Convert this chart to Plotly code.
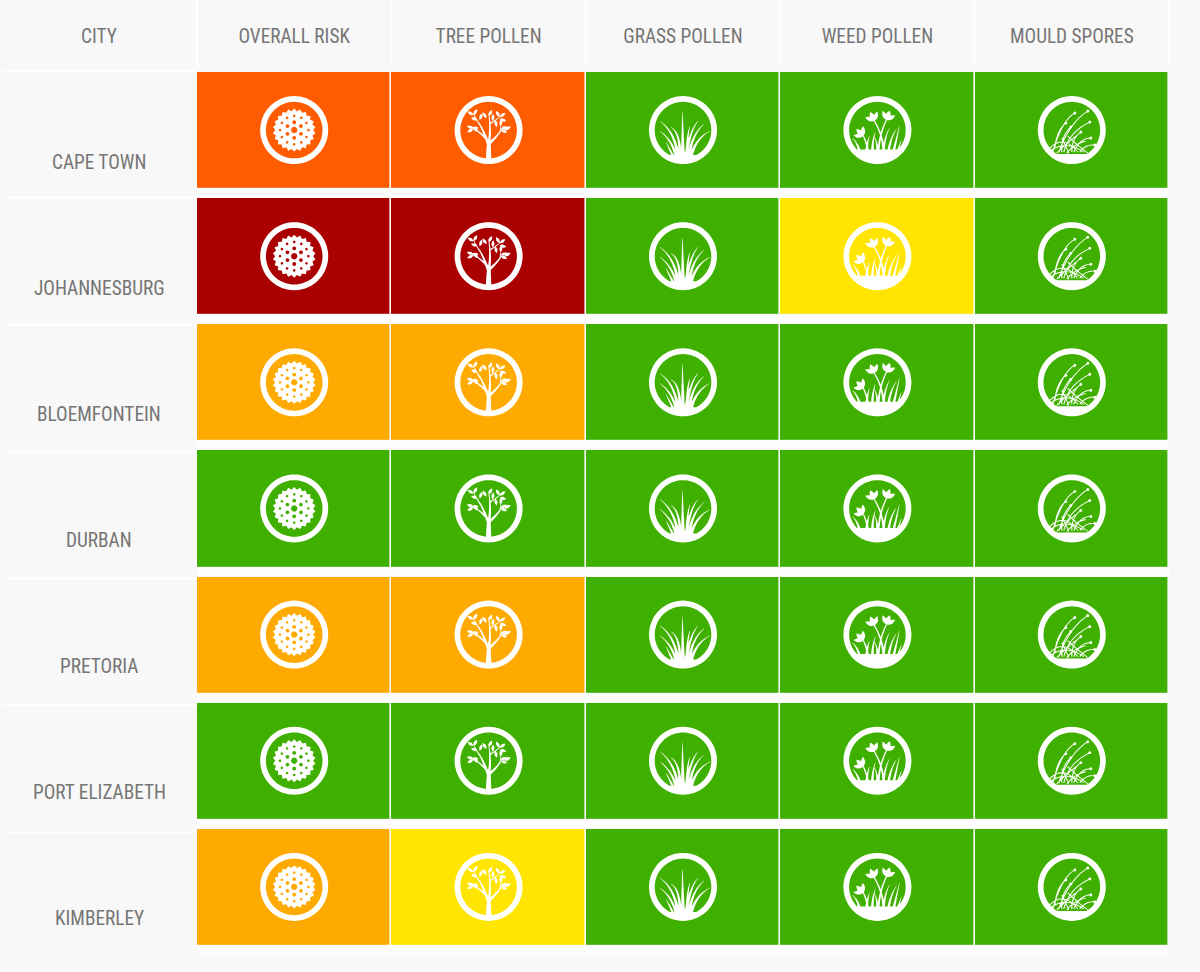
"""Pollen risk table for South African cities, drawn as a plotly heatmap with white icons."""
import math
import plotly.graph_objects as go

CITIES = ["CAPE TOWN", "JOHANNESBURG", "BLOEMFONTEIN", "DURBAN", "PRETORIA", "PORT ELIZABETH", "KIMBERLEY"]
COLUMNS = ["OVERALL RISK", "TREE POLLEN", "GRASS POLLEN", "WEED POLLEN", "MOULD SPORES"]
CORNER = "CITY"

# risk level per city: 0 low .. 4 very high
OVERALL = [3, 4, 2, 0, 2, 0, 2]
TREE = [3, 4, 2, 0, 2, 0, 1]
GRASS = [0, 0, 0, 0, 0, 0, 0]
WEED = [0, 1, 0, 0, 0, 0, 0]
MOULD = [0, 0, 0, 0, 0, 0, 0]

LEVEL_COLORS = ["#40B000", "#FFE500", "#FFAA00", "#FF5C00", "#AA0000"]
BG = "#F8F8F8"
TEXT = "#757575"
FONT = "Roboto Condensed, Liberation Sans Narrow, Roboto, sans-serif"
FONT_SIZE = 19.3

W, H = 1200, 972
M_L, M_R, M_T, M_B = 197, 31.4, 67, 17


# ---- icon geometry, pixels from icon centre, y pointing down ------------------
def poly(pts, hole=False):
    area = sum(pts[i][0] * pts[(i + 1) % len(pts)][1] - pts[(i + 1) % len(pts)][0] * pts[i][1]
               for i in range(len(pts)))
    if (area < 0) != hole:
        pts = pts[::-1]
    # shape paths in pixel mode measure y upwards
    return "M" + "L".join(f"{x:.2f},{-y:.2f}" for x, y in pts) + "Z"


def circle(cx, cy, r, n=12, hole=False):
    return poly([(cx + r * math.cos(2 * math.pi * k / n), cy + r * math.sin(2 * math.pi * k / n))
                 for k in range(n)], hole)


def ribbon(p0, c, p1, w0, w1=0.3, bulge=False, n=9):
    left, right = [], []
    for k in range(n + 1):
        t = k / n
        x = (1 - t) ** 2 * p0[0] + 2 * t * (1 - t) * c[0] + t * t * p1[0]
        y = (1 - t) ** 2 * p0[1] + 2 * t * (1 - t) * c[1] + t * t * p1[1]
        dx = 2 * (1 - t) * (c[0] - p0[0]) + 2 * t * (p1[0] - c[0])
        dy = 2 * (1 - t) * (c[1] - p0[1]) + 2 * t * (p1[1] - c[1])
        d = math.hypot(dx, dy) or 1
        w = w0 * math.sin(math.pi * t) if bulge else w0 + (w1 - w0) * t
        left.append((x - dy / d * w / 2, y + dx / d * w / 2))
        right.append((x + dy / d * w / 2, y - dx / d * w / 2))
    return poly(left + right[::-1])


def leaf(x, y, deg, length=7, w=3.0):
    a = math.radians(deg)
    x1, y1 = x + length * math.cos(a), y - length * math.sin(a)
    return ribbon((x, y), ((x + x1) / 2, (y + y1) / 2), (x1, y1), w, bulge=True)


def ground(y0, r=29.5):
    a = math.asin(y0 / r)
    steps = 20
    return poly([(r * math.cos(a + (math.pi - 2 * a) * k / steps), r * math.sin(a + (math.pi - 2 * a) * k / steps))
                 for k in range(steps + 1)])


RING = circle(0, 0, 34, 72) + circle(0, 0, 28.3, 72, hole=True)


def pollen_icon():
    star = []
    teeth = 22
    for k in range(teeth * 2):
        r = 21.5 if k % 2 == 0 else 19
        a = math.pi * k / teeth - math.pi / 2
        star.append((r * math.cos(a), r * math.sin(a)))
    path = poly(star) + circle(0, 0, 3.2, hole=True)
    for k in range(6):
        a = math.pi * k / 3 - math.pi / 2
        path += circle(7.8 * math.cos(a), 7.8 * math.sin(a), 1.9, hole=True)
    for k in range(12):
        a = math.pi * k / 6 - math.pi / 2
        path += circle(14.2 * math.cos(a), 14.2 * math.sin(a), 1.3, hole=True)
    return path


def tree_icon():
    parts = [
        ribbon((0, 30), (0, 18), (0.5, 9), 5.6, 3.2),
        ribbon((0, 15), (-4, 3), (-9, -6), 3.0, 1.2),
        ribbon((-8, -4), (-12, -10), (-15, -16), 1.5, 0.6),
        ribbon((0.5, 12), (2.5, -2), (0, -17), 2.8, 0.7),
        ribbon((1, -6), (6, -9), (12, -14), 1.5, 0.6),
        ribbon((1, 13), (7, 8), (12, 1), 2.8, 1.2),
        ribbon((11, 3), (12, -1), (12.5, -6), 1.2, 0.6),
        ribbon((-3, 8), (-10, 1), (-16, -2), 2.0, 0.7),
    ]
    leaves = [
        (-15, -15, 150), (-15, -15, 60), (-11, -10, 160), (-9, -10, 70), (-2, -12, 125), (0, -14, 60),
        (4, -9, 85), (11, -13, 35), (11, -13, 120), (11, -11, -15),
        (-15, -2, 165), (-15, -1, 205), (-10, 2, 140), (-10, -2, 180),
        (12, -1, 20), (12, 0, -20), (12, -4, 85), (16, 0, 30), (8, -3, 100),
    ]
    parts += [leaf(*v) for v in leaves]
    return "".join(parts)


def grass_icon():
    blades = [
        ((0, 26), (-0.5, 4), (-0.5, -18), 4.0),
        ((-5, 26), (-8, 2), (-23, -9), 3.4),
        ((-7, 26), (-11, 10), (-23, 1), 3.0),
        ((-3, 26), (-3, 2), (-12, -3), 3.4),
        ((4, 26), (4, 4), (7, -4), 3.2),
        ((3, 26), (7, 0), (15, -9), 3.4),
        ((6, 26), (9, 4), (21, -6), 3.4),
        ((8, 26), (13, 8), (27, 1), 3.4),
        ((-10, 26), (-14, 18), (-17, 12), 2.4),
    ]
    return ground(25) + "".join(ribbon(*b) for b in blades)


def tulip(x, y, deg):
    return leaf(x, y, deg, 10, 4.8) + leaf(x, y, deg + 42, 10, 4.0) + leaf(x, y, deg - 42, 10, 4.0)


def weed_icon():
    blades = [
        ((-18, 22), (-19, 14), (-25, 8), 3.0),
        ((-11, 22), (-10, 12), (-8, 6), 3.0),
        ((-5, 22), (-5, 10), (-2, 2), 3.0),
        ((0, 22), (0, 12), (-3, 7), 2.6),
        ((6, 22), (7, 8), (12, -2), 2.8),
        ((11, 22), (13, 8), (19, -1), 2.8),
        ((16, 22), (19, 10), (22, -4), 2.8),
        ((20, 22), (22, 16), (24, 10), 2.2),
    ]
    stems = [
        ((6, 22), (6, 6), (-3, -9), 2.1, 1.2),
        ((1, 22), (2, 4), (9, -10), 2.1, 1.2),
        ((-9, 22), (-11, 12), (-14, 6), 1.9, 1.2),
    ]
    path = ground(19.5) + "".join(ribbon(*b) for b in blades) + "".join(ribbon(*s) for s in stems)
    return path + tulip(-3, -9, 115) + tulip(9, -10, 70) + tulip(-14, 6, 135)


def mould_icon():
    stems = [
        ((-19, 22), (-10, -10), (3, -17)),
        ((-13, 22), (-2, -8), (16, -19)),
        ((-8, 22), (-3, 2), (18, -8)),
        ((0, 22), (0, 8), (9, 2)),
        ((-17, 18), (-15, 0), (-6, -7)),
        ((-10, 22), (-11, 6), (-1, -3)),
        ((2, 22), (8, 8), (19, 8)),
        ((8, 22), (14, 14), (23, 15)),
        ((-20, 20), (-6, 10), (12, 22)),
        ((-22, 18), (-8, 4), (6, 22)),
        ((-15, 23), (-6, 14), (4, 6)),
        ((-5, 23), (2, 14), (14, 11)),
        ((-4, 6), (4, 14), (16, 23)),
        ((-10, 8), (-6, 16), (-3, 23)),
    ]
    path = ground(24)
    for i, (p0, c, p1) in enumerate(stems):
        path += ribbon(p0, c, p1, 1.1, 0.9)
        if i < 8:
            path += circle(p1[0], p1[1], 1.5, 8)
    return path


ICONS = [pollen_icon(), tree_icon(), grass_icon(), weed_icon(), mould_icon()]

# ---- table --------------------------------------------------------------------
levels = [list(row) for row in zip(OVERALL, TREE, GRASS, WEED, MOULD)]
n = len(LEVEL_COLORS)
scale = []
for i, c in enumerate(LEVEL_COLORS):
    scale += [[i / n, c], [(i + 1) / n, c]]

fig = go.Figure(go.Heatmap(
    x=COLUMNS, y=CITIES, z=levels, zmin=-0.5, zmax=n - 0.5, colorscale=scale,
    showscale=False, xgap=1.6, ygap=10.2, hovertemplate="%{y}<br>%{x}: level %{z}<extra></extra>",
))

shapes = []
plot_h = H - M_T - M_B
plot_w = W - M_L - M_R
row_h = plot_h / len(CITIES)

# white bands under the rows and thin rules of the first column and header
for i in range(len(CITIES)):
    below = i + 0.46
    shapes.append(dict(type="rect", layer="below", xref="paper", yref="y", x0=0, x1=1,
                       y0=below, y1=below + 0.08, fillcolor="#FDFDFD", line_width=0))
    rule = 1 - (i * row_h + 4) / plot_h
    shapes.append(dict(type="line", layer="below", xref="paper", yref="paper",
                       x0=-(M_L - 3) / plot_w, x1=0, y0=rule, y1=rule,
                       line=dict(color="#FFFFFF", width=1.5)))
for k in range(len(COLUMNS) + 1):
    shapes.append(dict(type="line", layer="below", xref="paper", yref="paper",
                       x0=k / len(COLUMNS), x1=k / len(COLUMNS), y0=1, y1=1 + M_T / plot_h,
                       line=dict(color="#FFFFFF", width=1.5)))

# one white icon per cell, anchored on the cell through the axes
for city in CITIES:
    for col, glyph in zip(COLUMNS, ICONS):
        shapes.append(dict(type="path", xref="x", yref="y", xsizemode="pixel", ysizemode="pixel",
                           xanchor=col, yanchor=city, path=RING + glyph, fillrule="nonzero",
                           fillcolor="#FFFFFF", line_width=0))

label_x = (99.5 - M_L) / plot_w
city_labels = [dict(text=city, xref="paper", yref="y", x=label_x, y=city, yshift=-32,
                    xanchor="center", yanchor="middle", showarrow=False,
                    font=dict(family=FONT, size=FONT_SIZE, color=TEXT)) for city in CITIES]
city_labels.append(dict(text=CORNER, xref="paper", yref="paper", x=label_x, y=1, yshift=M_T - 36,
                        xanchor="center", yanchor="middle", showarrow=False,
                        font=dict(family=FONT, size=FONT_SIZE, color=TEXT)))

fig.update_layout(
    width=W, height=H, margin=dict(l=M_L, r=M_R, t=M_T, b=M_B, pad=0),
    paper_bgcolor=BG, plot_bgcolor=BG, shapes=shapes, annotations=city_labels,
    xaxis=dict(type="category", side="top", showgrid=False, zeroline=False, showline=False, ticks="",
               ticklabelstandoff=19, tickfont=dict(family=FONT, size=FONT_SIZE, color=TEXT), fixedrange=True),
    yaxis=dict(type="category", autorange="reversed", showgrid=False, zeroline=False, showline=False,
               ticks="", showticklabels=False, fixedrange=True),
)
fig.write_html("out.html", config={"displayModeBar": False},
               post_script="document.body.style.margin='0';document.body.style.background='%s';" % BG)
